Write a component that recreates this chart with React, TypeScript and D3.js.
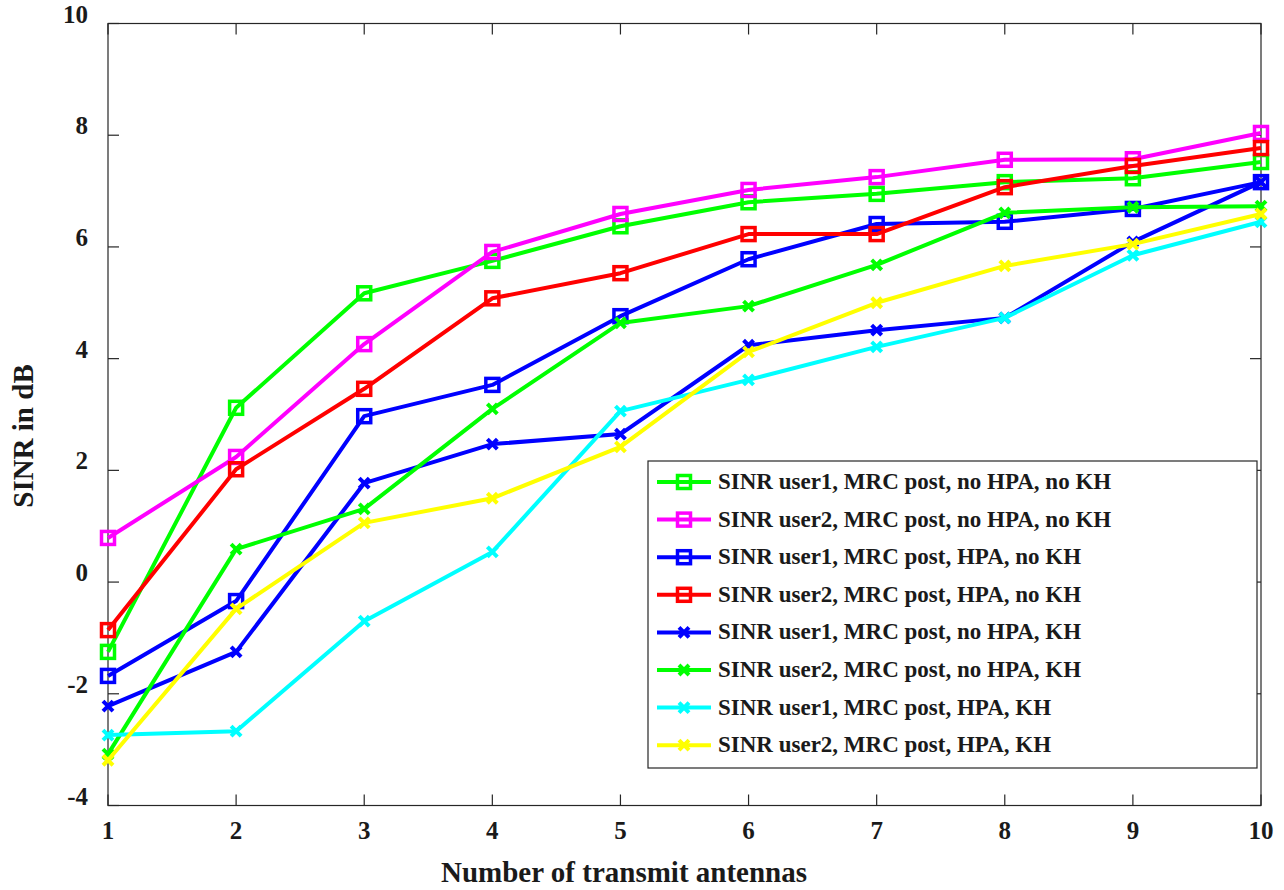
import React from 'react';
import * as d3 from 'd3';

const antennas = [1, 2, 3, 4, 5, 6, 7, 8, 9, 10];
const yTicks = [-4, -2, 0, 2, 4, 6, 8, 10];

const user1NoHpaNoKh = [-1.25, 3.12, 5.17, 5.75, 6.37, 6.8, 6.95, 7.16, 7.23, 7.52];
const user2NoHpaNoKh = [0.79, 2.24, 4.26, 5.91, 6.59, 7.02, 7.25, 7.56, 7.57, 8.04];
const user1HpaNoKh = [-1.68, -0.34, 2.97, 3.53, 4.76, 5.78, 6.41, 6.45, 6.68, 7.16];
const user2HpaNoKh = [-0.86, 2.02, 3.46, 5.08, 5.53, 6.23, 6.23, 7.07, 7.45, 7.77];
const user1NoHpaKh = [-2.22, -1.25, 1.77, 2.47, 2.65, 4.24, 4.51, 4.73, 6.09, 7.16];
const user2NoHpaKh = [-3.08, 0.59, 1.31, 3.1, 4.64, 4.94, 5.68, 6.61, 6.71, 6.73];
const user1HpaKh = [-2.74, -2.67, -0.7, 0.54, 3.06, 3.62, 4.21, 4.73, 5.85, 6.45];
const user2HpaKh = [-3.19, -0.48, 1.06, 1.5, 2.42, 4.12, 5.0, 5.66, 6.05, 6.59];

const series = [
  { name: 'SINR user1, MRC post, no HPA, no KH', values: user1NoHpaNoKh, color: '#00ff00', marker: 'square' },
  { name: 'SINR user2, MRC post, no HPA, no KH', values: user2NoHpaNoKh, color: '#ff00ff', marker: 'square' },
  { name: 'SINR user1, MRC post, HPA, no KH', values: user1HpaNoKh, color: '#0000ff', marker: 'square' },
  { name: 'SINR user2, MRC post, HPA, no KH', values: user2HpaNoKh, color: '#ff0000', marker: 'square' },
  { name: 'SINR user1, MRC post, no HPA, KH', values: user1NoHpaKh, color: '#0000ff', marker: 'cross' },
  { name: 'SINR user2, MRC post, no HPA, KH', values: user2NoHpaKh, color: '#00ff00', marker: 'cross' },
  { name: 'SINR user1, MRC post, HPA, KH', values: user1HpaKh, color: '#00ffff', marker: 'cross' },
  { name: 'SINR user2, MRC post, HPA, KH', values: user2HpaKh, color: '#ffff00', marker: 'cross' },
];

const W = 1284;
const H = 890;
const margin = { top: 23.5, right: 23, bottom: 84.5, left: 108 };
const font = '"Liberation Serif", "Times New Roman", serif';
const ink = '#1a1a1a';

const Marker = ({ type, x, y, color }: { type: string; x: number; y: number; color: string }) => {
  if (type === 'square') {
    return <rect x={x - 6.5} y={y - 6.5} width={13} height={13} fill="none" stroke={color} strokeWidth={3.5} />;
  }
  return (
    <path
      d={`M${x - 5},${y - 5}L${x + 5},${y + 5}M${x - 5},${y + 5}L${x + 5},${y - 5}`}
      stroke={color}
      strokeWidth={4}
      fill="none"
    />
  );
};

const App = () => {
  const x = d3.scaleLinear().domain([1, 10]).range([margin.left, W - margin.right]);
  const y = d3.scaleLinear().domain([-4, 10]).range([H - margin.bottom, margin.top]);
  const line = d3.line<number>()
    .x((_, i) => x(antennas[i]))
    .y(d => y(d));

  const [x0, x1] = x.range();
  const [y0, y1] = [y(-4), y(10)];

  const legend = { x: 648, y: 461, w: 609, h: 307, row: 37.6, first: 482 };

  return (
    <svg width={W} height={H} style={{ position: 'absolute', left: 0, top: 0, background: '#fff' }}>
      <rect x={0} y={0} width={W} height={H} fill="#fff" />
      {/* box */}
      <rect x={x0} y={y1} width={x1 - x0} height={y0 - y1} fill="none" stroke="#262626" strokeWidth={1.2} />
      {/* ticks */}
      {antennas.map(t => (
        <g key={'xt' + t}>
          <line x1={x(t)} x2={x(t)} y1={y0} y2={y0 - 11} stroke="#262626" strokeWidth={1.2} />
          <line x1={x(t)} x2={x(t)} y1={y1} y2={y1 + 11} stroke="#262626" strokeWidth={1.2} />
          <text x={x(t)} y={y0 + 33} textAnchor="middle" fontFamily={font} fontWeight="bold" fontSize={25} fill={ink}>
            {t}
          </text>
        </g>
      ))}
      {yTicks.map(t => (
        <g key={'yt' + t}>
          <line x1={x0} x2={x0 + 11} y1={y(t)} y2={y(t)} stroke="#262626" strokeWidth={1.2} />
          <line x1={x1} x2={x1 - 11} y1={y(t)} y2={y(t)} stroke="#262626" strokeWidth={1.2} />
          <text x={x0 - 20} y={y(t) - 1} textAnchor="end" fontFamily={font} fontWeight="bold" fontSize={25} fill={ink}>
            {t}
          </text>
        </g>
      ))}
      {/* series */}
      {series.map(s => (
        <g key={s.name}>
          <path d={line(s.values) || ''} fill="none" stroke={s.color} strokeWidth={4} strokeLinejoin="round" />
          {s.values.map((v, i) => (
            <Marker key={i} type={s.marker} x={x(antennas[i])} y={y(v)} color={s.color} />
          ))}
        </g>
      ))}
      {/* axis labels */}
      <text x={624} y={882} textAnchor="middle" fontFamily={font} fontWeight="bold" fontSize={29} fill={ink}>
        Number of transmit antennas
      </text>
      <text
        transform="translate(33,436) rotate(-90)"
        textAnchor="middle"
        fontFamily={font}
        fontWeight="bold"
        fontSize={29}
        fill={ink}
      >
        SINR in dB
      </text>
      {/* legend */}
      <rect x={legend.x} y={legend.y} width={legend.w} height={legend.h} fill="#fff" stroke="#262626" strokeWidth={1.2} />
      {series.map((s, i) => {
        const ly = legend.first + i * legend.row;
        return (
          <g key={'lg' + s.name}>
            <line x1={657} x2={711} y1={ly} y2={ly} stroke={s.color} strokeWidth={4} />
            <Marker type={s.marker} x={684} y={ly} color={s.color} />
            <text x={718} y={ly + 7} fontFamily={font} fontWeight="bold" fontSize={23} fill={ink}>
              {s.name}
            </text>
          </g>
        );
      })}
    </svg>
  );
};

export default App;
